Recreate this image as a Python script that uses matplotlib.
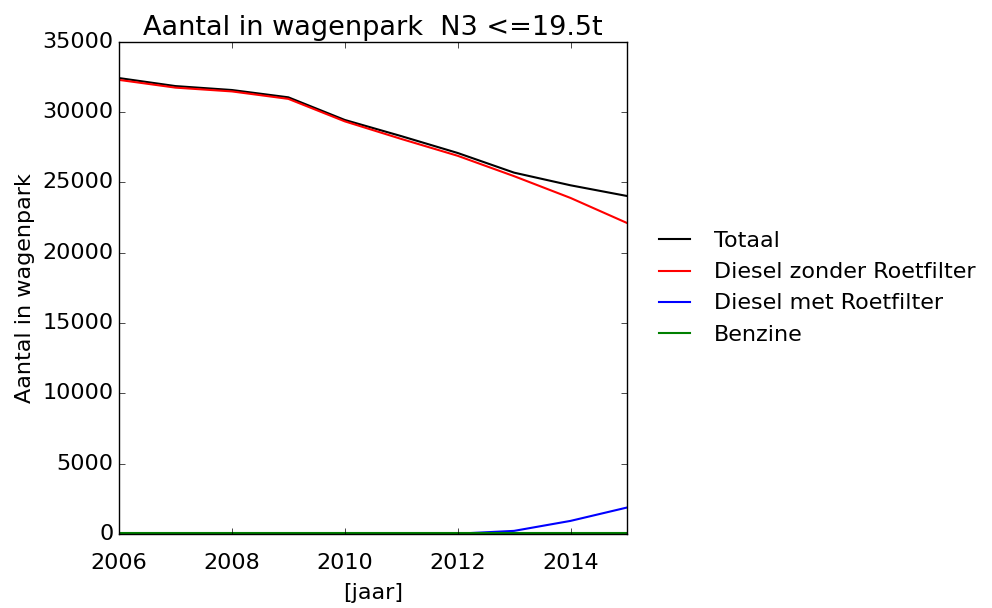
import matplotlib
matplotlib.use('Agg')
import matplotlib.pyplot as plt

plt.style.use('classic')

jaren = [2006, 2007, 2008, 2009, 2010, 2011, 2012, 2013, 2014, 2015]
totaal = [32430, 31860, 31580, 31060, 29450, 28300, 27100, 25700, 24800, 24040]
diesel_zonder = [32300, 31750, 31480, 30950, 29350, 28100, 26900, 25450, 23900, 22120]
diesel_met = [0, 0, 0, 0, 0, 0, 10, 210, 920, 1870]
benzine = [50, 50, 50, 50, 50, 50, 50, 50, 50, 50]

fig = plt.figure(figsize=(9.92, 6.08), dpi=100, facecolor='white')
ax = fig.add_axes([0.12, 0.122, 0.512, 0.809])

ax.plot(jaren, totaal, color='black', lw=1.5, label='Totaal')
ax.plot(jaren, diesel_zonder, color='red', lw=1.5, label='Diesel zonder Roetfilter')
ax.plot(jaren, diesel_met, color='blue', lw=1.5, label='Diesel met Roetfilter')
ax.plot(jaren, benzine, color='green', lw=1.5, label='Benzine')

ax.set_xlim(2006, 2015)
ax.set_ylim(0, 35000)
ax.set_xticks([2006, 2008, 2010, 2012, 2014])
ax.ticklabel_format(useOffset=False, style='plain')
ax.tick_params(labelsize=16)
ax.tick_params(axis='x', pad=14)
ax.set_xlabel('[jaar]', fontsize=16, labelpad=7)
ax.set_ylabel('Aantal in wagenpark', fontsize=16)
ax.set_title('Aantal in wagenpark  N3 <=19.5t', fontsize=19.5)

ax.legend(loc='center left', bbox_to_anchor=(1.01, 0.5), frameon=False, fontsize=16)

fig.savefig('out.png', dpi=100, facecolor='white')
